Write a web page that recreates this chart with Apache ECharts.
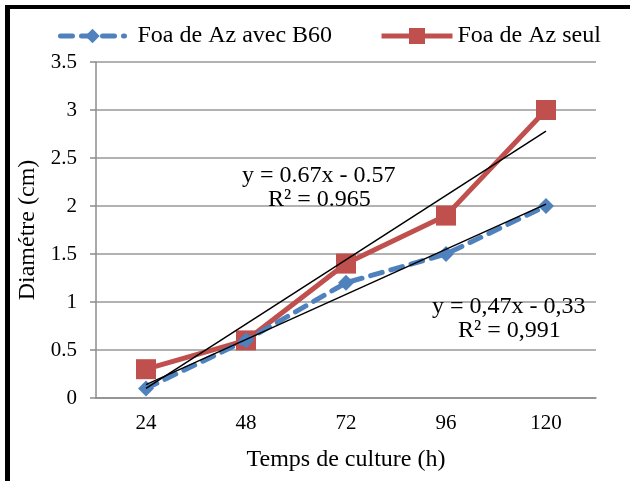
<!DOCTYPE html>
<html><head><meta charset="utf-8">
<script src="https://cdn.jsdelivr.net/npm/echarts@6/dist/echarts.min.js"></script>
<style>html,body{margin:0;padding:0;background:#fff}#c{width:630px;height:481px}</style>
</head><body><div id="c"></div>
<script>
var categories = ['24', '48', '72', '96', '120'];
var avecB60 = [0.1, 0.6, 1.2, 1.5, 2.0];
var seul = [0.3, 0.6, 1.4, 1.9, 3.0];
var trendAvec = [0.14, null, null, null, 2.02];
var trendSeul = [0.10, null, null, null, 2.78];
var yTicks = [0, 0.5, 1, 1.5, 2, 2.5, 3, 3.5];

var F = 'Liberation Serif, Times New Roman, serif';
var chart = echarts.init(document.getElementById('c'));
var legText = {fontFamily: F, fontSize: 24, color: '#000'};
chart.setOption({
  animation: false,
  backgroundColor: '#fff',
  textStyle: {fontFamily: F},
  legend: [
    {
      top: 19, left: 53, itemWidth: 64, itemHeight: 18,
      textStyle: Object.assign({padding: [0, 0, 0, 8]}, legText),
      lineStyle: {width: 5},
      data: ['Foa de Az avec B60']
    },
    {
      top: 19, left: 374, itemWidth: 71, itemHeight: 20,
      textStyle: Object.assign({padding: [0, 0, 0, 0]}, legText),
      lineStyle: {width: 5},
      data: ['Foa de Az seul']
    }
  ],
  grid: {left: 96, right: 34, top: 62, bottom: 83},
  xAxis: {
    type: 'category', data: categories, boundaryGap: true,
    axisLine: {lineStyle: {color: '#8c8c8c', width: 1.5}},
    axisTick: {show: false},
    axisLabel: {fontFamily: F, fontSize: 21, color: '#000', margin: 15},
    name: 'Temps de culture (h)', nameLocation: 'middle', nameGap: 50,
    nameTextStyle: {fontFamily: F, fontSize: 24, color: '#000'}
  },
  yAxis: {
    type: 'value', min: 0, max: 3.5, interval: 0.5,
    axisLine: {show: true, lineStyle: {color: '#8c8c8c', width: 1.5}},
    axisTick: {show: true, inside: false, length: 6, lineStyle: {color: '#8c8c8c', width: 1.5}},
    splitLine: {lineStyle: {color: '#999', width: 1.5}},
    axisLabel: {fontFamily: F, fontSize: 21, color: '#000', margin: 19,
      formatter: function(v){ return String(v); }},
    name: 'Diamétre (cm)', nameLocation: 'middle', nameGap: 50, nameRotate: 90,
    nameTextStyle: {fontFamily: F, fontSize: 24, color: '#000', padding: [0, 0, 0, 0]}
  },
  series: [
    {
      name: 'Foa de Az avec B60', type: 'line', data: avecB60,
      symbol: 'diamond', symbolSize: 16, showAllSymbol: true,
      itemStyle: {color: '#4F81BD'},
      lineStyle: {color: '#4F81BD', width: 5, type: [12, 9], cap: 'round'},
      z: 3
    },
    {
      name: 'Foa de Az seul', type: 'line', data: seul,
      symbol: 'rect', symbolSize: 20,
      itemStyle: {color: '#C0504D'},
      lineStyle: {color: '#C0504D', width: 5},
      z: 2
    },
    {
      name: 'trendSeul', type: 'line', data: trendSeul, connectNulls: true,
      symbol: 'none', lineStyle: {color: '#000', width: 1.5}, z: 5, silent: true
    },
    {
      name: 'trendAvec', type: 'line', data: trendAvec, connectNulls: true,
      symbol: 'none', lineStyle: {color: '#000', width: 1.5}, z: 5, silent: true
    }
  ],
  graphic: [
    {type: 'rect', shape: {x: 5, y: 5, width: 625, height: 4}, style: {fill: '#000'}},
    {type: 'rect', shape: {x: 5, y: 5, width: 5, height: 476}, style: {fill: '#000'}},
    {type: 'text', left: 242, top: 164, style: {text: 'y = 0.67x - 0.57', font: '24px ' + F, fill: '#000'}, z: 10},
    {type: 'text', left: 268, top: 188, style: {text: 'R² = 0.965', font: '24px ' + F, fill: '#000'}, z: 10},
    {type: 'text', left: 432, top: 295, style: {text: 'y = 0,47x - 0,33', font: '24px ' + F, fill: '#000'}, z: 10},
    {type: 'text', left: 458, top: 319, style: {text: 'R² = 0,991', font: '24px ' + F, fill: '#000'}, z: 10}
  ]
});
</script></body></html>
